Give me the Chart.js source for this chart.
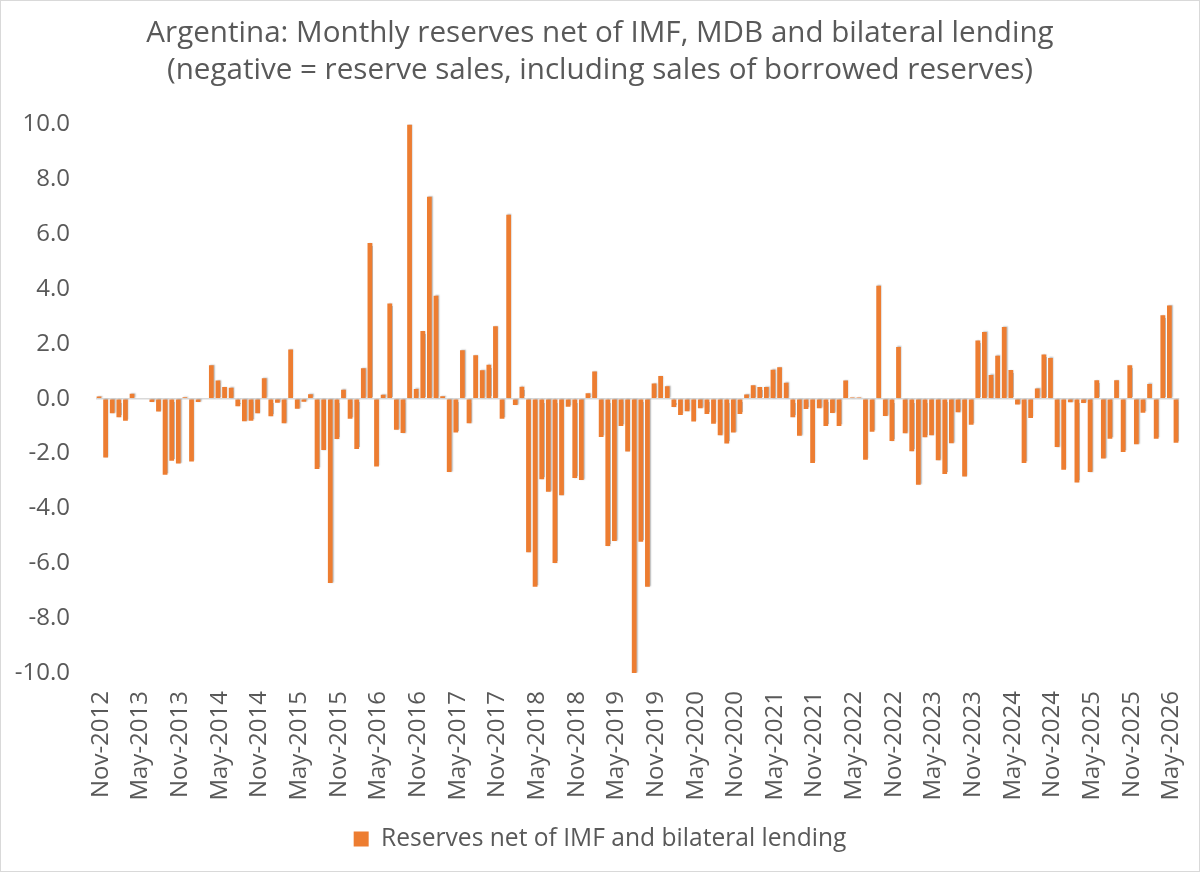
<!DOCTYPE html>
<html>
<head>
<meta charset="utf-8">
<title>Argentina monthly reserves</title>
<script src="https://cdn.jsdelivr.net/npm/chart.js@4.4.1/dist/chart.umd.min.js"></script>
<style>
  html, body { margin: 0; padding: 0; background: #fff; }
  #wrap { width: 1200px; height: 872px; }
</style>
</head>
<body>
<div id="wrap"><canvas id="chart" width="1200" height="872"></canvas></div>
<script>
// Monthly categories, Nov-2012 .. Jun-2026
const monthNames = ['Jan', 'Feb', 'Mar', 'Apr', 'May', 'Jun', 'Jul', 'Aug', 'Sep', 'Oct', 'Nov', 'Dec'];
const firstYear = 2012;
const firstMonth = 10; // Nov, zero based
const monthCount = 164;

const categories = [];
for (let i = 0; i < monthCount; i++) {
    const m = firstMonth + i;
    categories.push(monthNames[m % 12] + '-' + (firstYear + Math.floor(m / 12)));
}

// Only these months get a label on the x axis
const tickLabels = [
    'Nov-2012', 'May-2013', 'Nov-2013', 'May-2014', 'Nov-2014', 'May-2015', 'Nov-2015',
    'May-2016', 'Nov-2016', 'May-2017', 'Nov-2017', 'May-2018', 'Nov-2018', 'May-2019',
    'Nov-2019', 'May-2020', 'Nov-2020', 'May-2021', 'Nov-2021', 'May-2022', 'Nov-2022',
    'May-2023', 'Nov-2023', 'May-2024', 'Nov-2024', 'May-2025', 'Nov-2025', 'May-2026'
];

// USD bn (one value per month)
const reserves = [
    0.08, -2.14, -0.53, -0.67, -0.80, 0.18, 0.00, 0.00, -0.12, -0.46, -2.77, -2.26,
    -2.36, 0.06, -2.29, -0.12, 0.00, 1.22, 0.67, 0.43, 0.40, -0.27, -0.82, -0.80,
    -0.53, 0.75, -0.64, -0.14, -0.89, 1.80, -0.36, -0.11, 0.17, -2.56, -1.87, -6.72,
    -1.47, 0.33, -0.73, -1.83, 1.11, 5.68, -2.47, 0.15, 3.48, -1.13, -1.25, 10.0,
    0.36, 2.47, 7.37, 3.76, 0.09, -2.67, -1.23, 1.77, -0.89, 1.59, 1.04, 1.24,
    2.65, -0.73, 6.71, -0.23, 0.44, -5.60, -6.85, -2.93, -3.39, -5.99, -3.52, -0.29,
    -2.89, -2.96, 0.20, 1.00, -1.39, -5.37, -5.19, -0.99, -1.92, -10.0, -5.21, -6.85,
    0.56, 0.83, 0.46, -0.30, -0.59, -0.45, -0.83, -0.34, -0.55, -0.91, -1.33, -1.63,
    -1.23, -0.55, 0.16, 0.49, 0.43, 0.43, 1.06, 1.15, 0.59, -0.67, -1.35, -0.37,
    -2.34, -0.34, -0.99, -0.52, -0.99, 0.67, 0.05, 0.05, -2.22, -1.20, 4.12, -0.63,
    -1.54, 1.89, -1.26, -1.91, -3.13, -1.40, -1.33, -2.24, -2.74, -1.62, -0.49, -2.83,
    -0.95, 2.13, 2.44, 0.87, 1.57, 2.62, 1.05, -0.21, -2.34, -0.70, 0.38, 1.62,
    1.49, -1.76, -2.59, -0.13, -3.05, -0.15, -2.67, 0.68, -2.18, -1.46, 0.68, -1.94,
    1.22, -1.66, -0.51, 0.54, -1.46, 3.05, 3.40, -1.60
];

const yMin = -10;
const yMax = 10;
const yStep = 2;

const seriesName = 'Reserves net of IMF and bilateral lending';
const titleLines = [
    'Argentina: Monthly reserves net of IMF, MDB and bilateral lending',
    '(negative = reserve sales, including sales of borrowed reserves)'
];

const FONT = "'Open Sans', sans-serif";
const GREY = '#595959';
const ORANGE = '#ED7D31';

// light outline round the whole chart, like the Excel chart area
const chartBorder = {
    id: 'chartBorder',
    afterDraw(chart) {
        const ctx = chart.ctx;
        ctx.save();
        ctx.strokeStyle = '#d9d9d9';
        ctx.lineWidth = 1;
        ctx.strokeRect(0.5, 0.5, chart.width - 1, chart.height - 1);
        ctx.restore();
    }
};

// faint shadow on the bars
const barShadow = {
    id: 'barShadow',
    beforeDatasetsDraw(chart) {
        const ctx = chart.ctx;
        ctx.save();
        ctx.shadowColor = 'rgba(0, 0, 0, 0.28)';
        ctx.shadowBlur = 1.5;
        ctx.shadowOffsetX = 1.2;
        ctx.shadowOffsetY = -0.5;
    },
    afterDatasetsDraw(chart) {
        chart.ctx.restore();
    }
};

new Chart(document.getElementById('chart'), {
    type: 'bar',
    data: {
        labels: categories,
        datasets: [{
            label: seriesName,
            data: reserves,
            backgroundColor: ORANGE,
            borderWidth: 0,
            categoryPercentage: 1,
            barPercentage: 0.72
        }]
    },
    options: {
        responsive: false,
        animation: false,
        layout: { padding: { left: 0, right: 0, top: 0, bottom: 10.7 } },
        plugins: {
            title: {
                display: true,
                text: titleLines,
                color: GREY,
                font: { family: FONT, size: 29.6, weight: 'normal', lineHeight: 1.24 },
                padding: { top: 15.2, bottom: 36 }
            },
            legend: {
                position: 'bottom',
                labels: {
                    color: GREY,
                    font: { family: FONT, size: 24.6 },
                    boxWidth: 15,
                    boxHeight: 15,
                    padding: 10
                }
            },
            tooltip: { enabled: false }
        },
        scales: {
            x: {
                offset: true,
                grid: { display: false, drawTicks: false },
                border: { display: false },
                ticks: {
                    autoSkip: false,
                    minRotation: 90,
                    maxRotation: 90,
                    padding: 18,
                    labelOffset: 2,
                    color: GREY,
                    font: { family: FONT, size: 24 },
                    callback(value, index) {
                        const label = categories[index];
                        return tickLabels.includes(label) ? label : '';
                    }
                },
                afterFit(scale) {
                    scale.height = 143.7;
                    // rotated labels would otherwise push the plot in from the right
                    scale.paddingLeft = 0;
                    scale.paddingRight = 0;
                }
            },
            y: {
                min: yMin,
                max: yMax,
                z: 1,
                grid: {
                    drawTicks: false,
                    lineWidth: 1.5,
                    color: (ctx) => ctx.tick && ctx.tick.value === 0 ? '#d9d9d9' : 'transparent'
                },
                border: { display: false },
                ticks: {
                    stepSize: yStep,
                    padding: 25.7,
                    color: GREY,
                    font: { family: FONT, size: 24 },
                    callback: (v) => v.toFixed(1)
                },
                afterFit(scale) { scale.width = 95.7; }
            },
            // empty strip on the right so the plot ends where the Excel plot ends
            spacer: {
                type: 'linear',
                position: 'right',
                grid: { display: false },
                border: { display: false },
                ticks: { display: false },
                afterFit(scale) { scale.width = 20.7; }
            }
        }
    },
    plugins: [barShadow, chartBorder]
});
</script>
</body>
</html>
